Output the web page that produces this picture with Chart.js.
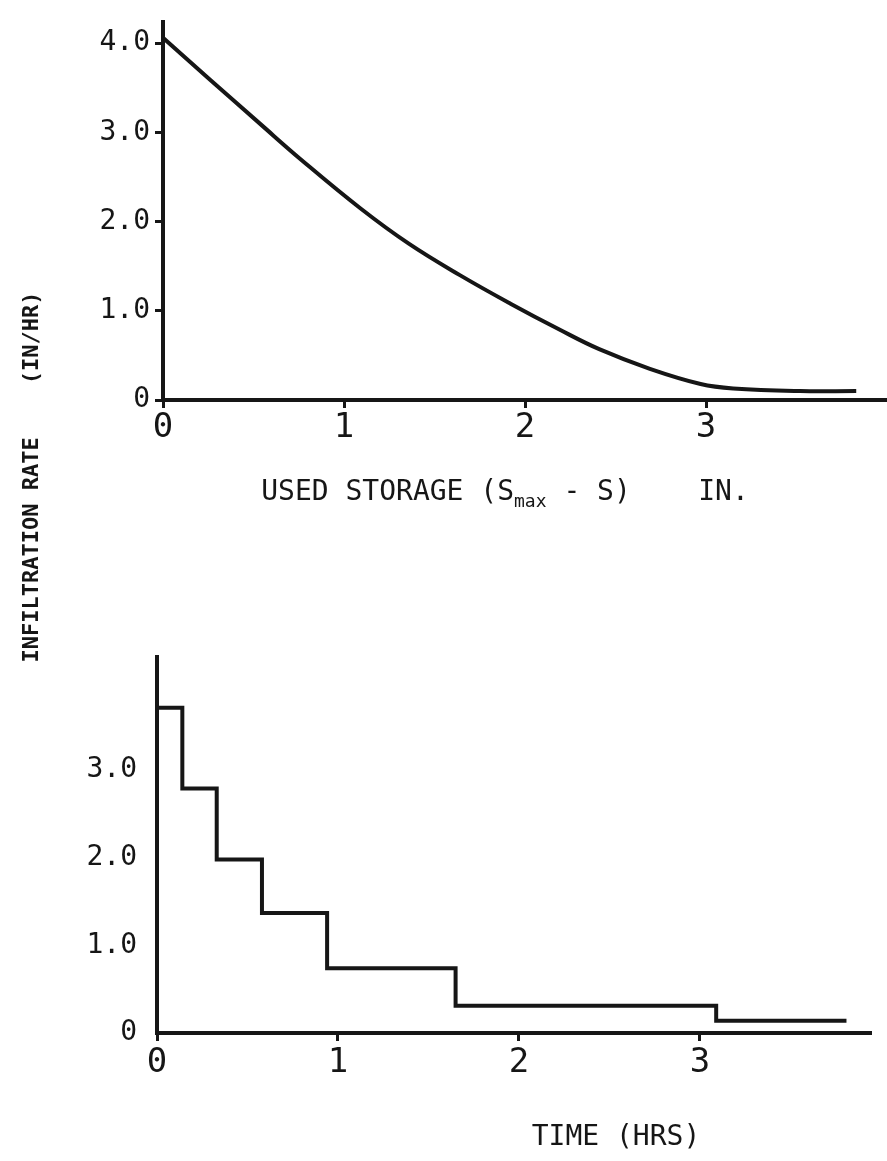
<!DOCTYPE html>
<html>
<head>
<meta charset="utf-8">
<script src="https://cdn.jsdelivr.net/npm/chart.js@4.4.1/dist/chart.umd.min.js"></script>
<style>
  html, body { margin: 0; padding: 0; background: #fff; }
  #wrap { position: relative; width: 887px; height: 1161px; }
  #wrap canvas { position: absolute; left: 0; top: 0; }
</style>
</head>
<body>
<div id="wrap">
  <canvas id="storageChart" width="887" height="1161"></canvas>
  <canvas id="timeChart" width="887" height="1161"></canvas>
</div>
<script>
const INK = "#161616";
const MONO = '"DejaVu Sans Mono", "Liberation Mono", monospace';

// infiltration rate against used storage (Smax - S)
const usedStorage = [0, 0.26, 0.54, 0.76, 1.09, 1.36, 1.64, 1.92, 2.19, 2.41, 2.69, 2.97, 3.15, 3.52, 3.83];
const rateByStorage = [4.06, 3.59, 3.09, 2.70, 2.15, 1.75, 1.40, 1.08, 0.79, 0.57, 0.35, 0.18, 0.13, 0.10, 0.10];
const storageTicks = [0, 1, 2, 3];
const storageRateTicks = [0, 1, 2, 3, 4];
const storageRateLabels = ["0", "1.0", "2.0", "3.0", "4.0"];

// stepped infiltration rate against time, one value per interval start
const stepTimes = [0, 0.14, 0.33, 0.58, 0.94, 1.65, 3.09, 3.81];
const stepRates = [3.71, 2.79, 1.98, 1.37, 0.74, 0.31, 0.14, 0.14];
const timeTicks = [0, 1, 2, 3];
const timeRateTicks = [0, 1, 2, 3];
const timeRateLabels = ["0", "1.0", "2.0", "3.0"];

function useTicks(values) {
    return function (scale) {
        scale.ticks = values.map(v => ({ value: v }));
    };
}

function labelFrom(values, labels) {
    return function (value) {
        const i = values.indexOf(value);
        return i >= 0 ? labels[i] : "";
    };
}

function axisStyle(tickLen, drawTicks) {
    return {
        grid: {
            display: true,
            drawOnChartArea: false,
            drawTicks: drawTicks,
            tickLength: tickLen,
            color: INK,
            lineWidth: 3
        },
        border: { display: true, color: INK, width: 4 }
    };
}

// captions drawn straight onto the canvas
const storageCaptions = {
    id: "storageCaptions",
    afterDraw(chart) {
        const ctx = chart.ctx;
        const area = chart.chartArea;

        // shared rate caption running up the left edge
        ctx.save();
        ctx.fillStyle = INK;
        ctx.translate(32, 477);
        ctx.rotate(-Math.PI / 2);
        ctx.font = "bold 22px " + MONO;
        ctx.textAlign = "center";
        ctx.textBaseline = "middle";
        ctx.fillText("INFILTRATION RATE    (IN/HR)", 0, 0);
        ctx.restore();

        const parts = [
            ["USED STORAGE (S", 28, 0],
            ["max", 18, 7],
            [" - S)    IN.", 28, 0]
        ];
        ctx.save();
        ctx.fillStyle = INK;
        ctx.textBaseline = "alphabetic";
        let total = 0;
        parts.forEach(p => {
            ctx.font = p[1] + "px " + MONO;
            total += ctx.measureText(p[0]).width;
        });
        let x = 505 - total / 2;
        const y = area.bottom + 100;
        parts.forEach(p => {
            ctx.font = p[1] + "px " + MONO;
            ctx.fillText(p[0], x, y + p[2]);
            x += ctx.measureText(p[0]).width;
        });
        ctx.restore();
    }
};

const timeCaption = {
    id: "timeCaption",
    afterDraw(chart) {
        const ctx = chart.ctx;
        const area = chart.chartArea;
        ctx.save();
        ctx.fillStyle = INK;
        ctx.font = "28px " + MONO;
        ctx.textAlign = "center";
        ctx.textBaseline = "alphabetic";
        ctx.fillText("TIME (HRS)", 616, area.bottom + 112);
        ctx.restore();
    }
};

const common = {
    responsive: false,
    devicePixelRatio: 1,
    animation: false,
    plugins: { legend: { display: false }, tooltip: { enabled: false } }
};

new Chart(document.getElementById("storageChart").getContext("2d"), {
    type: "line",
    data: {
        datasets: [{
            data: usedStorage.map((s, i) => ({ x: s, y: rateByStorage[i] })),
            borderColor: INK,
            borderWidth: 4,
            pointRadius: 0,
            fill: false,
            tension: 0.4
        }]
    },
    options: Object.assign({}, common, {
        layout: { padding: { top: 10, left: 0, right: 0, bottom: 661 } },
        scales: {
            x: Object.assign(axisStyle(8, true), {
                type: "linear",
                min: 0,
                max: 4.0,
                afterBuildTicks: useTicks(storageTicks),
                afterFit(scale) { scale.height = 100; },
                ticks: {
                    color: INK,
                    padding: 0,
                    maxRotation: 0,
                    font: { family: MONO, size: 34 },
                    callback: v => String(v)
                }
            }),
            y: Object.assign(axisStyle(8, true), {
                type: "linear",
                min: 0,
                max: 4.24,
                afterBuildTicks: useTicks(storageRateTicks),
                afterFit(scale) { scale.width = 163; },
                ticks: {
                    color: INK,
                    padding: 5,
                    font: { family: MONO, size: 28 },
                    callback: labelFrom(storageRateTicks, storageRateLabels)
                }
            })
        }
    }),
    plugins: [storageCaptions]
});

new Chart(document.getElementById("timeChart").getContext("2d"), {
    type: "line",
    data: {
        datasets: [{
            data: stepTimes.map((t, i) => ({ x: t, y: stepRates[i] })),
            borderColor: INK,
            borderWidth: 4,
            pointRadius: 0,
            fill: false,
            stepped: true
        }]
    },
    options: Object.assign({}, common, {
        layout: { padding: { top: 657, left: 0, right: 17, bottom: 28 } },
        scales: {
            x: Object.assign(axisStyle(8, true), {
                type: "linear",
                min: 0,
                max: 3.94,
                afterBuildTicks: useTicks(timeTicks),
                afterFit(scale) { scale.height = 100; },
                ticks: {
                    color: INK,
                    padding: 2,
                    maxRotation: 0,
                    font: { family: MONO, size: 34 },
                    callback: v => String(v)
                }
            }),
            y: Object.assign(axisStyle(0, false), {
                type: "linear",
                min: 0,
                max: 4.29,
                afterBuildTicks: useTicks(timeRateTicks),
                afterFit(scale) { scale.width = 157; },
                ticks: {
                    color: INK,
                    padding: 20,
                    font: { family: MONO, size: 28 },
                    callback: labelFrom(timeRateTicks, timeRateLabels)
                }
            })
        }
    }),
    plugins: [timeCaption]
});
</script>
</body>
</html>
